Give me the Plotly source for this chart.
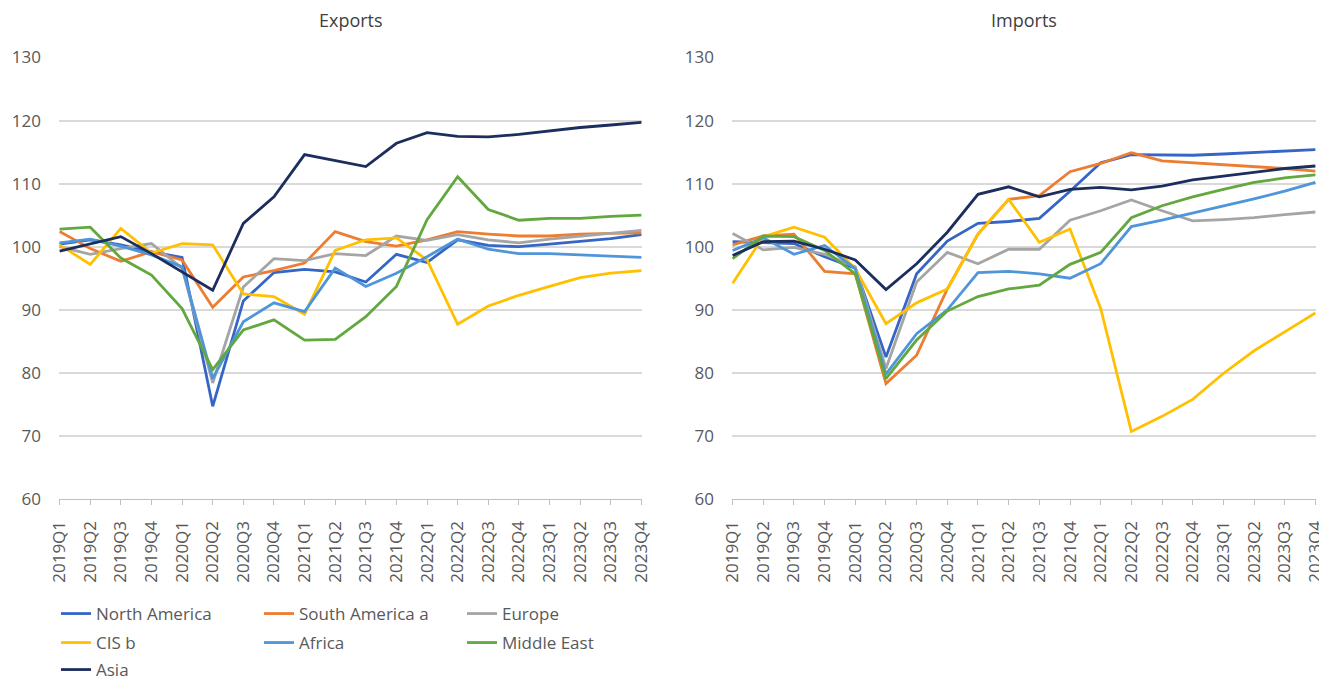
import plotly.graph_objects as go

quarters = ["2019Q1", "2019Q2", "2019Q3", "2019Q4",
            "2020Q1", "2020Q2", "2020Q3", "2020Q4",
            "2021Q1", "2021Q2", "2021Q3", "2021Q4",
            "2022Q1", "2022Q2", "2022Q3", "2022Q4",
            "2023Q1", "2023Q2", "2023Q3", "2023Q4"]

regions = ["North America", "South America a", "Europe", "CIS b", "Africa", "Middle East", "Asia"]

# Exports volume index
exp_north_america = [100.4, 101.1, 100.3, 99.2, 98.3, 74.7, 91.4, 95.9, 96.4, 96.0, 94.4, 98.8, 97.5, 101.1, 100.2, 100.0, 100.4, 100.8, 101.3, 101.9]
exp_south_america = [102.4, 99.7, 97.7, 99.2, 97.9, 90.4, 95.2, 96.2, 97.4, 102.4, 100.8, 100.1, 101.1, 102.4, 102.0, 101.7, 101.7, 102.0, 102.1, 102.2]
exp_europe = [100.0, 98.8, 99.7, 100.5, 96.6, 78.4, 93.6, 98.1, 97.8, 98.9, 98.6, 101.7, 101.0, 101.9, 101.1, 100.6, 101.2, 101.7, 102.2, 102.6]
exp_cis = [100.3, 97.2, 102.9, 99.0, 100.5, 100.3, 92.5, 92.1, 89.3, 99.4, 101.1, 101.4, 97.9, 87.7, 90.6, 92.3, 93.7, 95.1, 95.8, 96.2]
exp_africa = [100.6, 101.2, 100.1, 98.7, 96.8, 79.1, 88.1, 91.1, 89.7, 96.6, 93.7, 95.8, 98.4, 101.2, 99.6, 98.9, 98.9, 98.7, 98.5, 98.3]
exp_middle_east = [102.8, 103.1, 98.2, 95.5, 90.2, 80.5, 86.8, 88.4, 85.2, 85.3, 88.9, 93.7, 104.3, 111.1, 105.9, 104.2, 104.5, 104.5, 104.8, 105.0]
exp_asia = [99.3, 100.4, 101.6, 98.9, 96.0, 93.1, 103.7, 107.9, 114.6, 113.7, 112.7, 116.4, 118.1, 117.5, 117.4, 117.8, 118.4, 118.9, 119.3, 119.7]

# Imports volume index
imp_north_america = [100.8, 100.7, 100.5, 98.4, 96.6, 82.5, 95.7, 100.9, 103.7, 104.0, 104.5, 108.8, 113.3, 114.6, 114.5, 114.5, 114.7, 114.9, 115.2, 115.4]
imp_south_america = [100.3, 101.7, 102.0, 96.1, 95.7, 78.3, 82.8, 93.3, 102.0, 107.5, 108.1, 111.9, 113.2, 114.9, 113.6, 113.3, 113.1, 112.8, 112.4, 112.0]
imp_europe = [102.1, 99.5, 99.9, 98.8, 96.8, 80.7, 94.4, 99.1, 97.3, 99.6, 99.6, 104.2, 105.7, 107.4, 105.7, 104.1, 104.3, 104.6, 105.1, 105.5]
imp_cis = [94.2, 101.6, 103.1, 101.5, 96.5, 87.8, 91.1, 93.3, 102.0, 107.5, 100.7, 102.8, 90.2, 70.7, 73.1, 75.8, 79.9, 83.5, 86.5, 89.5]
imp_africa = [99.4, 101.4, 98.8, 100.2, 96.5, 79.8, 86.2, 90.0, 95.9, 96.1, 95.7, 95.0, 97.3, 103.2, 104.2, 105.3, 106.5, 107.6, 108.8, 110.2]
imp_middle_east = [98.1, 101.7, 101.6, 99.4, 95.7, 79.1, 85.2, 89.8, 92.1, 93.3, 93.9, 97.2, 99.1, 104.6, 106.5, 107.9, 109.1, 110.2, 110.9, 111.4]
imp_asia = [98.6, 100.8, 100.9, 99.6, 97.9, 93.2, 97.3, 102.3, 108.3, 109.5, 107.9, 109.1, 109.4, 109.0, 109.6, 110.6, 111.2, 111.8, 112.4, 112.8]

exports = [exp_north_america, exp_south_america, exp_europe, exp_cis, exp_africa, exp_middle_east, exp_asia]
imports = [imp_north_america, imp_south_america, imp_europe, imp_cis, imp_africa, imp_middle_east, imp_asia]

colors = ["#3566C6", "#ED7D31", "#A5A5A5", "#FFC000", "#4E95D9", "#62A83F", "#1C2E5E"]
legend_ids = ["legend", "legend", "legend", "legend2", "legend2", "legend2", "legend3"]

W, H = 1319, 680
FONT = "Open Sans"
TXT = "#595959"

fig = go.Figure()

for name, ys, col, lg in zip(regions, exports, colors, legend_ids):
    fig.add_trace(go.Scatter(x=quarters, y=ys, name=name, mode="lines",
                             line=dict(color=col, width=2.8),
                             xaxis="x", yaxis="y", legend=lg))
for name, ys, col in zip(regions, imports, colors):
    fig.add_trace(go.Scatter(x=quarters, y=ys, name=name, mode="lines",
                             line=dict(color=col, width=2.8),
                             xaxis="x2", yaxis="y2", showlegend=False))

ydom = [(H - 499) / H, (H - 57.5) / H]

xcommon = dict(type="category", categoryorder="array", categoryarray=quarters,
               range=[-0.02, 19.02], showgrid=False, showline=True,
               linecolor="#BFBFBF", linewidth=1.3, ticks="outside", ticklen=5,
               tickcolor="#BFBFBF", tickwidth=1.3, tickangle=-90,
               tickfont=dict(family=FONT, size=17, color=TXT),
               ticklabelstandoff=9, zeroline=False, fixedrange=True,
               automargin=False)
ycommon = dict(range=[60, 130], dtick=10, tick0=60, showgrid=True,
               gridcolor="#D9D9D9", gridwidth=1.5, zeroline=False, showline=False,
               ticks="", tickfont=dict(family=FONT, size=17, color=TXT),
               ticklabelstandoff=17, fixedrange=True, automargin=False)

fig.update_layout(
    width=W, height=H,
    margin=dict(l=0, r=0, t=0, b=0, autoexpand=False),
    paper_bgcolor="white", plot_bgcolor="white",
    font=dict(family=FONT, color=TXT),
    xaxis=dict(domain=[59 / W, 642 / W], anchor="y", **xcommon),
    yaxis=dict(domain=ydom, anchor="x", **ycommon),
    xaxis2=dict(domain=[732 / W, 1316 / W], anchor="y2", **xcommon),
    yaxis2=dict(domain=ydom, anchor="x2", **ycommon),
    annotations=[
        dict(text="Exports", x=(59 + 642) / 2 / W, y=(H - 20) / H, xref="paper", yref="paper",
             xanchor="center", yanchor="middle", showarrow=False,
             font=dict(family=FONT, size=18, color="#404040")),
        dict(text="Imports", x=(732 + 1316) / 2 / W, y=(H - 20) / H, xref="paper", yref="paper",
             xanchor="center", yanchor="middle", showarrow=False,
             font=dict(family=FONT, size=18, color="#404040")),
    ],
)

leg_common = dict(orientation="h", xanchor="left", yanchor="middle",
                  entrywidth=158, entrywidthmode="pixels",
                  font=dict(family=FONT, size=17, color=TXT),
                  bgcolor="rgba(0,0,0,0)", borderwidth=0, itemclick=False,
                  itemdoubleclick=False, traceorder="normal")
fig.update_layout(
    legend=dict(x=56 / W, y=(H - 614) / H, **leg_common),
    legend2=dict(x=56 / W, y=(H - 643) / H, **leg_common),
    legend3=dict(x=56 / W, y=(H - 670) / H, **leg_common),
)

fig.write_html("out.html", config={"displayModeBar": False},
               post_script="document.body.style.margin='0px';document.body.style.overflow='hidden';")
